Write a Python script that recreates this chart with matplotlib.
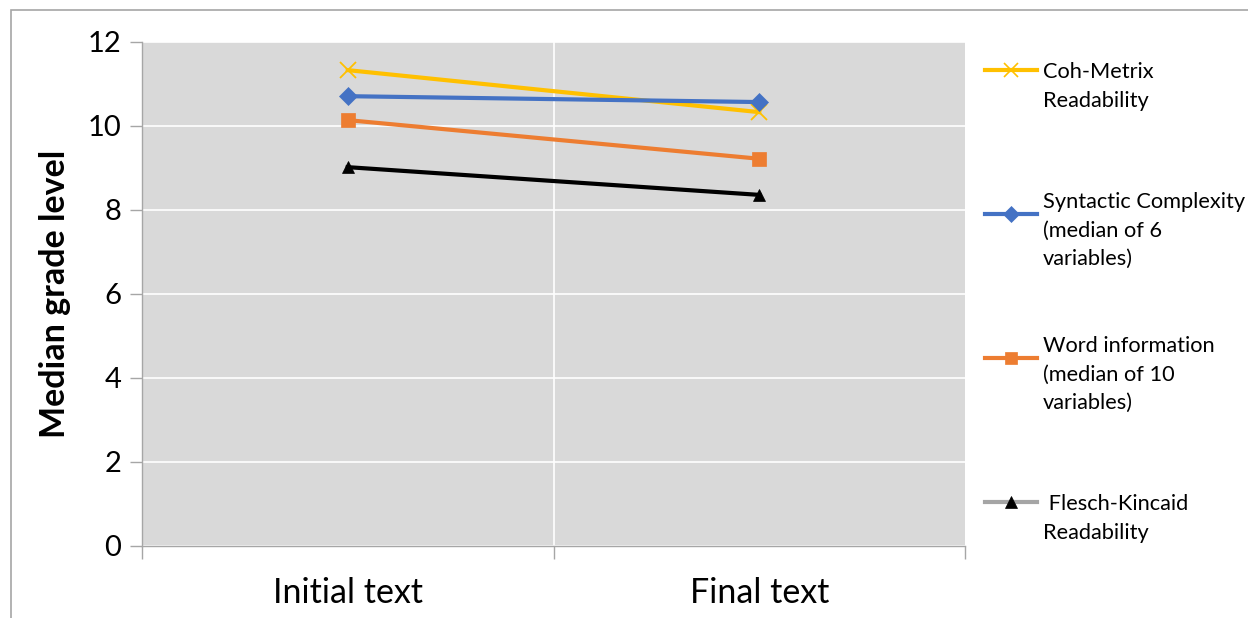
import matplotlib.pyplot as plt
from matplotlib.lines import Line2D
from matplotlib.patches import Rectangle

plt.rcParams['font.family'] = ['Lato', 'DejaVu Sans']

# data
categories = ['Initial text', 'Final text']
coh_metrix = [11.33, 10.33]
syntactic = [10.71, 10.57]
word_info = [10.14, 9.22]
flesch = [9.02, 8.36]

series = [
    (coh_metrix, 'Coh-Metrix\nReadability', '#ffc000', 'x', '#ffc000'),
    (syntactic, 'Syntactic Complexity\n(median of 6\nvariables)', '#4472c4', 'D', '#4472c4'),
    (word_info, 'Word information\n(median of 10\nvariables)', '#ed7d31', 's', '#ed7d31'),
    (flesch, ' Flesch-Kincaid\nReadability', '#000000', '^', '#a5a5a5'),
]
marker_sizes = {'x': 11, 'D': 9, 's': 10, '^': 9}

W, H = 1248, 618
fig = plt.figure(figsize=(W / 100, H / 100), dpi=100)
fig.patch.set_facecolor('white')

# outer frame (cropped at right and bottom)
fig.patches.append(Rectangle((11 / W, -0.2), 2.0, 0.2 + (1 - 10 / H),
                             transform=fig.transFigure, fill=False,
                             edgecolor='#a6a6a6', lw=1.2))

ax = fig.add_axes([142 / W, 1 - 546 / H, (965 - 142) / W, (546 - 42) / H])
ax.set_facecolor('#d9d9d9')

x = list(range(len(categories)))
for vals, label, color, marker, leg_color in series:
    ms = marker_sizes[marker]
    ax.plot(x, vals, color=color, lw=3, marker=marker, markersize=ms,
            markerfacecolor=color, markeredgecolor=color,
            markeredgewidth=1.3 if marker == 'x' else 0.5, zorder=3)

ax.set_xlim(-0.5, 1.5)
ax.set_ylim(0, 12)
ax.set_yticks(range(0, 13, 2))
ax.set_xticks(x)
ax.set_xticklabels(categories, fontsize=24.5)
ax.set_xticks([-0.5, 0.5, 1.5], minor=True)
ax.tick_params(axis='x', which='major', length=0, pad=22)
ax.tick_params(axis='x', which='minor', length=9, color='#a6a6a6', width=1)
ax.tick_params(axis='y', length=9, color='#a6a6a6', width=1, labelsize=21, pad=6)

ax.grid(axis='y', color='white', lw=1.2, zorder=0)
ax.axvline(0.5, color='white', lw=1.2, zorder=0)
ax.set_axisbelow(True)

for s in ['top', 'right']:
    ax.spines[s].set_visible(False)
for s in ['left', 'bottom']:
    ax.spines[s].set_color('#a6a6a6')
    ax.spines[s].set_linewidth(1)

ax.set_ylabel('Median grade level', fontsize=24.5, fontweight='bold', labelpad=12)

# legend drawn by hand so that the swatch sits on the first text line
y0, step = 70, 144
for i, (vals, label, color, marker, leg_color) in enumerate(series):
    yy = 1 - (y0 + i * step) / H
    fig.lines.append(Line2D([985 / W, 1011 / W, 1037 / W], [yy, yy, yy],
                            transform=fig.transFigure, color=leg_color, lw=3,
                            marker=marker, markevery=[1],
                            markersize=marker_sizes[marker] * 0.9,
                            markerfacecolor=color, markeredgecolor=color,
                            markeredgewidth=1.2 if marker == 'x' else 0.5))
    fig.text(1043 / W, yy - 10 / H, label, fontsize=15.7, va='center_baseline',
             ha='left', linespacing=1.55, color='#000000')

fig.savefig('out.png', dpi=100)
